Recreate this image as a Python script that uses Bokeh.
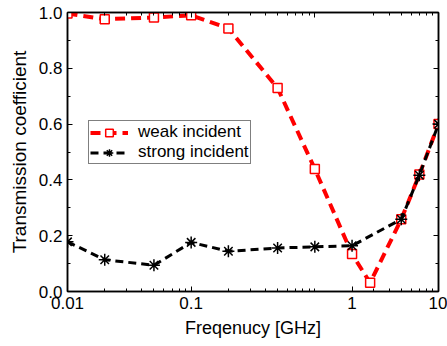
from bokeh.plotting import figure
from bokeh.models import (Range1d, FixedTicker, LogAxis, LinearAxis, Legend,
                          LegendItem, PrintfTickFormatter, CustomLabelingPolicy)
from bokeh.embed import file_html
from bokeh.resources import INLINE

# data
freq_weak = [0.01, 0.02, 0.05, 0.1, 0.2, 0.5, 1, 2, 2.8, 5, 7, 10]
weak = [0.996, 0.976, 0.982, 0.99, 0.943, 0.729, 0.439, 0.134, 0.031, 0.259, 0.419, 0.60]
freq_strong = [0.01, 0.02, 0.05, 0.1, 0.2, 0.5, 1, 2, 5, 7, 10]
strong = [0.178, 0.114, 0.094, 0.176, 0.144, 0.156, 0.160, 0.164, 0.259, 0.417, 0.60]

x_major = [0.01, 0.1, 2, 10]
x_labels = {0.01: "0.01", 0.1: "0.1", 2: "1", 10: "10"}
x_minor = [0.02, 0.03, 0.04, 0.05, 0.06, 0.07, 0.08, 0.09,
           0.2, 0.3, 0.4, 0.5, 0.6, 0.7, 0.8, 0.9, 1,
           3, 4, 5, 6, 7, 8, 9]
y_major = [0.0, 0.2, 0.4, 0.6, 0.8, 1.0]
y_minor = [0.1, 0.3, 0.5, 0.7, 0.9]

FONT = "Liberation Sans"

p = figure(width=447, height=346, x_axis_type="log",
           x_range=Range1d(0.01, 10), y_range=Range1d(0, 1),
           output_backend="svg", toolbar_location=None,
           min_border_left=67, min_border_right=9,
           min_border_top=12, min_border_bottom=55)
p.grid.visible = False
p.outline_line_color = "black"
p.outline_line_width = 1.5
p.background_fill_color = "white"
p.border_fill_color = "white"

hide_all = CustomLabelingPolicy(code="""
const a = [...indices]
for (const i of a) indices.unset(i)
return indices
""")


def style_axis(ax, show_labels):
    ax.major_tick_in = 5
    ax.major_tick_out = 0
    ax.minor_tick_in = 3
    ax.minor_tick_out = 0
    ax.axis_line_color = "black"
    ax.axis_line_width = 1.5
    ax.major_tick_line_color = "black"
    ax.minor_tick_line_color = "black"
    ax.major_label_text_font = FONT
    ax.major_label_text_color = "black"
    ax.axis_label_text_font = FONT
    ax.axis_label_text_font_style = "normal"
    ax.axis_label_text_color = "black"
    if show_labels:
        ax.major_label_text_font_size = "17px"
        ax.major_label_standoff = 5
    else:
        ax.major_label_policy = hide_all
        ax.major_label_text_font_size = "1px"
        ax.major_label_standoff = 0


xb = p.xaxis[0]
xb.ticker = FixedTicker(ticks=x_major, minor_ticks=x_minor)
xb.major_label_overrides = x_labels
style_axis(xb, True)
xb.axis_label = "Freqenucy [GHz]"
xb.axis_label_text_font_size = "18px"
xb.axis_label_standoff = 6

yl = p.yaxis[0]
yl.ticker = FixedTicker(ticks=y_major, minor_ticks=y_minor)
yl.formatter = PrintfTickFormatter(format="%.1f")
style_axis(yl, True)
yl.axis_label = "Transmission coefficient"
yl.axis_label_text_font_size = "19px"
yl.axis_label_standoff = 6

xt = LogAxis(ticker=FixedTicker(ticks=[0.01, 0.1, 1, 10], minor_ticks=x_minor))
style_axis(xt, False)
p.add_layout(xt, "above")

yr = LinearAxis(ticker=FixedTicker(ticks=y_major, minor_ticks=y_minor))
style_axis(yr, False)
p.add_layout(yr, "right")

l1 = p.line(freq_weak, weak, line_color="#ff0000", line_width=4, line_dash="10 6")
s1 = p.scatter(freq_weak, weak, marker="square", size=9, fill_color="white",
               line_color="#ff0000", line_width=1.5)
l2 = p.line(freq_strong, strong, line_color="black", line_width=3, line_dash="8 5")
s2 = p.scatter(freq_strong, strong, marker="asterisk", size=12,
               line_color="black", line_width=1.5)

legend = Legend(items=[LegendItem(label="weak incident", renderers=[l1, s1]),
                       LegendItem(label="strong incident", renderers=[l2, s2])],
                location=(21, 127), orientation="vertical")
legend.label_text_font = FONT
legend.label_text_font_size = "17px"
legend.label_text_color = "black"
legend.border_line_color = "black"
legend.border_line_width = 1
legend.background_fill_alpha = 1.0
legend.glyph_width = 38
legend.glyph_height = 19
legend.label_height = 19
legend.label_standoff = 10
legend.padding = 1
legend.spacing = 0
legend.margin = 0
p.add_layout(legend, "center")

open("out.html", "w").write(file_html(p, INLINE))
